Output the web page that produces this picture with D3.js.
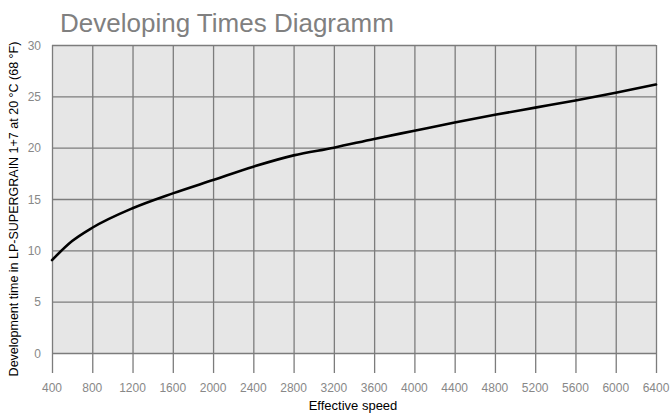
<!DOCTYPE html>
<html><head><meta charset="utf-8">
<script src="https://cdn.jsdelivr.net/npm/d3@7"></script>
<style>body{margin:0;background:#fff}svg{display:block}</style>
</head><body>
<svg id="c" width="672" height="417"></svg>
<script>
const speeds = [400, 600, 800, 1200, 1600, 2000, 2400, 2800, 3200, 3600, 4000, 4400, 4800, 5200, 5600, 6000, 6400];
const times  = [9.05, 10.9, 12.2, 14.1, 15.55, 16.85, 18.15, 19.25, 20.0, 20.85, 21.65, 22.45, 23.2, 23.9, 24.6, 25.35, 26.15];
const xTicks = [400, 800, 1200, 1600, 2000, 2400, 2800, 3200, 3600, 4000, 4400, 4800, 5200, 5600, 6000, 6400];
const yTicks = [0, 5, 10, 15, 20, 25, 30];

const svg = d3.select("#c");
const m = {l: 52, r: 656, t: 45, b: 353};
const x = d3.scaleLinear().domain([400, 6400]).range([m.l, m.r]);
const y = d3.scaleLinear().domain([0, 30]).range([m.b, m.t]);
const gridCol = "#7c7c7c";
const font = "'Liberation Sans', Arial, sans-serif";

svg.append("rect").attr("x", m.l).attr("y", m.t).attr("width", m.r - m.l).attr("height", m.b - m.t).attr("fill", "#e6e6e6");

// vertical gridlines (extending below the plot as ticks)
svg.append("g").attr("transform", `translate(0,${m.b + 20})`)
  .call(d3.axisBottom(x).tickValues(xTicks).tickSize(m.b + 20 - m.t).tickFormat(""))
  .call(g => g.select(".domain").remove())
  .call(g => g.selectAll(".tick line").attr("stroke", gridCol).attr("stroke-width", 1.3).attr("transform", `translate(0,-${m.b + 20 - m.t})`).attr("y2", m.b + 20 - m.t));

// horizontal gridlines
svg.append("g").attr("transform", `translate(${m.l},0)`)
  .call(d3.axisRight(y).tickValues(yTicks).tickSize(m.r - m.l).tickFormat(""))
  .call(g => g.select(".domain").remove())
  .call(g => g.selectAll(".tick line").attr("stroke", gridCol).attr("stroke-width", 1.3));

// x tick labels
svg.append("g").selectAll("text").data(xTicks).join("text")
  .attr("x", d => x(d)).attr("y", 392).attr("text-anchor", "middle")
  .attr("font-family", font).attr("font-size", 12).attr("fill", "#888").text(d => d);

// y tick labels
svg.append("g").selectAll("text").data(yTicks).join("text")
  .attr("x", 41).attr("y", d => y(d) + 4.5).attr("text-anchor", "end")
  .attr("font-family", font).attr("font-size", 12).attr("fill", "#888").text(d => d);

// curve
svg.append("path").datum(speeds.map((s, i) => [s, times[i]]))
  .attr("fill", "none").attr("stroke", "#000").attr("stroke-width", 2.6).attr("stroke-linecap", "round")
  .attr("d", d3.line().x(d => x(d[0])).y(d => y(d[1])).curve(d3.curveMonotoneX));

// title
svg.append("text").attr("x", 60).attr("y", 32).attr("font-family", font).attr("font-size", 26)
  .attr("fill", "#808080").text("Developing Times Diagramm");

// axis titles
svg.append("text").attr("x", 353).attr("y", 410).attr("text-anchor", "middle")
  .attr("font-family", font).attr("font-size", 13).attr("fill", "#000").text("Effective speed");
svg.append("text").attr("transform", "translate(18,209) rotate(-90)").attr("text-anchor", "middle")
  .attr("font-family", font).attr("font-size", 12.5).attr("fill", "#000")
  .text("Development time in LP-SUPERGRAIN 1+7 at 20 °C (68 °F)");
</script>
</body></html>
